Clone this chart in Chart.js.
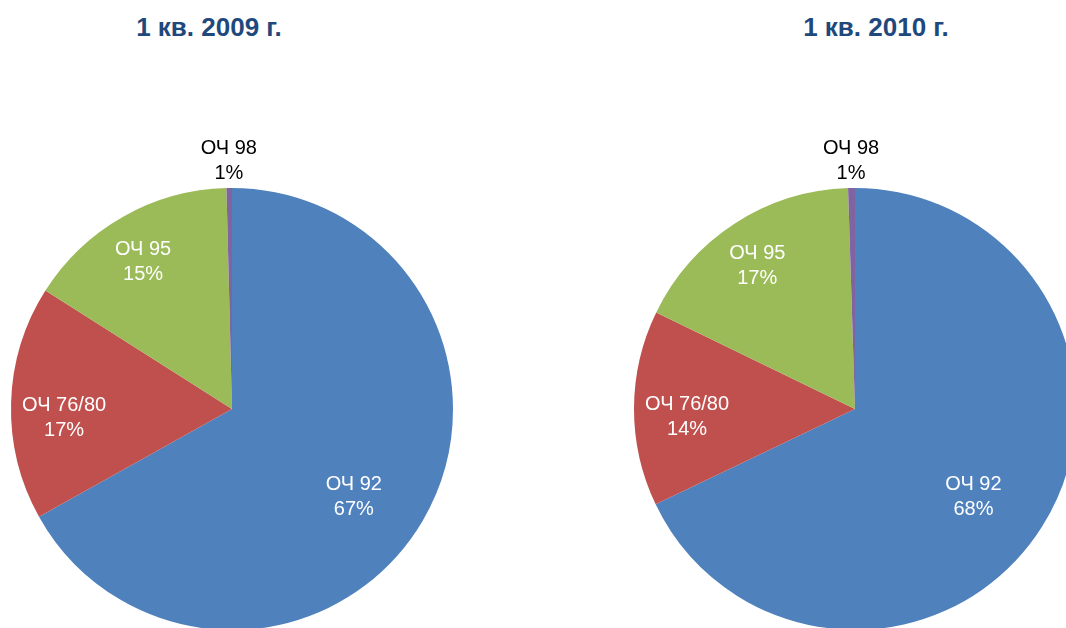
<!DOCTYPE html>
<html lang="ru">
  <head>
    <meta charset="utf-8" />
    <title>ОЧ 2009 / 2010</title>
    <script src="https://cdn.jsdelivr.net/npm/chart.js@4.4.0/dist/chart.umd.min.js"></script>
    <style>
      html, body { margin: 0; padding: 0; background: #fff; overflow: hidden; }
      body { width: 1066px; height: 628px; position: relative; }
      .title {
        position: absolute;
        top: 12px;
        width: 300px;
        text-align: center;
        font: bold 26px "Liberation Sans", Arial, sans-serif;
        color: #1f497d;
      }
      .box { position: absolute; top: 0; height: 660px; }
    </style>
  </head>
  <body>
    <div class="title" style="left: 59px">1 кв. 2009 г.</div>
    <div class="title" style="left: 726px">1 кв. 2010 г.</div>
    <div class="box" style="left: 0; width: 533px"><canvas id="pie2009"></canvas></div>
    <div class="box" style="left: 533px; width: 560px"><canvas id="pie2010"></canvas></div>

    <script>
      // data
      const categories = ["ОЧ 92", "ОЧ 76/80", "ОЧ 95", "ОЧ 98"];
      const shares2009 = [66.9, 17.1, 15.6, 0.4];
      const shares2010 = [67.9, 14.3, 17.3, 0.5];
      const pctLabels2009 = ["67%", "17%", "15%", "1%"];
      const pctLabels2010 = ["68%", "14%", "17%", "1%"];

      const SLICE_COLORS = ["#4f81bd", "#c0504d", "#9bbb59", "#8064a2"];
      // how far out (fraction of radius) each label sits, and its colour
      const LABEL_DIST = [0.66, 0.76, 0.78, 1.13];
      const LABEL_COLORS = ["#fff", "#fff", "#fff", "#000"];

      const sliceLabels = {
        id: "sliceLabels",
        afterDatasetsDraw(chart, args, opts) {
          const ctx = chart.ctx;
          const arcs = chart.getDatasetMeta(0).data;
          ctx.save();
          ctx.font = '20px "Liberation Sans", Arial, sans-serif';
          ctx.textAlign = "center";
          ctx.textBaseline = "middle";
          arcs.forEach((arc, i) => {
            const p = arc.getProps(["x", "y", "startAngle", "endAngle", "outerRadius"], true);
            const mid = (p.startAngle + p.endAngle) / 2;
            const r = p.outerRadius * LABEL_DIST[i];
            // small nudge, Excel's best-fit labels are not exactly on the mid line
            const x = p.x + Math.cos(mid) * r + opts.nudge[i][0];
            const y = p.y + Math.sin(mid) * r + opts.nudge[i][1];
            ctx.fillStyle = LABEL_COLORS[i];
            ctx.fillText(categories[i], x, y - 12);
            ctx.fillText(opts.pct[i], x, y + 13);
          });
          ctx.restore();
        },
      };

      function makePie(id, values, pct, padding, nudge) {
        new Chart(document.getElementById(id), {
          type: "pie",
          data: {
            labels: categories,
            datasets: [
              {
                data: values,
                backgroundColor: SLICE_COLORS,
                borderWidth: 0,
              },
            ],
          },
          options: {
            responsive: true,
            maintainAspectRatio: false,
            animation: false,
            layout: { padding: padding },
            plugins: {
              legend: { display: false },
              tooltip: { enabled: false },
              sliceLabels: { pct: pct, nudge: nudge },
            },
          },
          plugins: [sliceLabels],
        });
      }

      makePie("pie2009", shares2009, pctLabels2009,
        { left: 11, right: 80, top: 188, bottom: 30 },
        [[-4, 14], [0, 13], [-4, 2], [0, 1]]);
      makePie("pie2010", shares2010, pctLabels2010,
        { left: 101, right: 17, top: 188, bottom: 30 },
        [[-5, 10], [0, 8], [-4, 1], [0, 1]]);
    </script>
  </body>
</html>
